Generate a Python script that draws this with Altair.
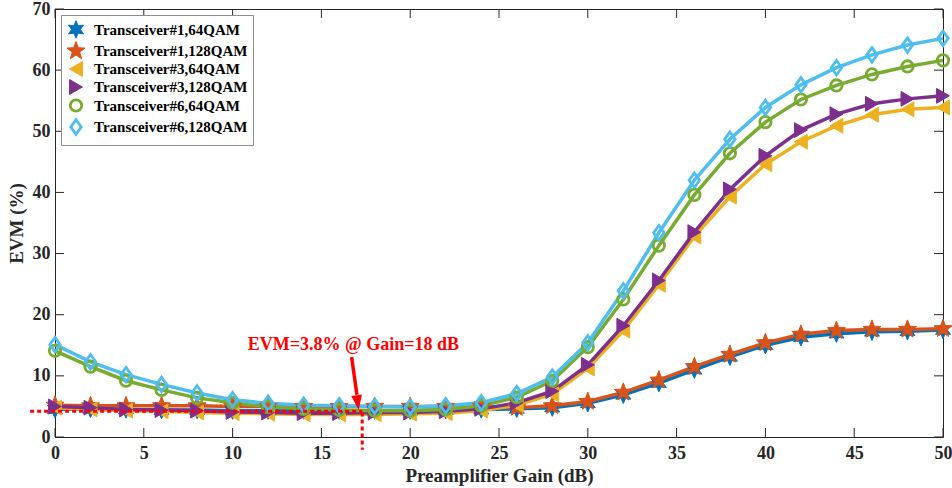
import math
import altair as alt
import pandas as pd

# ---------------- data ----------------
gain = list(range(0, 51, 2))
series_names = [
    "Transceiver#1,64QAM",
    "Transceiver#1,128QAM",
    "Transceiver#3,64QAM",
    "Transceiver#3,128QAM",
    "Transceiver#6,64QAM",
    "Transceiver#6,128QAM",
]
t1_64 = [4.5, 4.6, 4.5, 4.4, 4.4, 4.3, 4.3, 4.3, 4.3, 4.3, 4.3, 4.4, 4.5, 4.6, 4.8, 5.5, 6.9, 8.8, 11.0, 13.1, 15.0, 16.3, 16.9, 17.2, 17.3, 17.5]
t1_128 = [5.2, 5.1, 5.1, 5.1, 5.1, 5.0, 5.0, 5.0, 5.0, 5.0, 5.0, 5.0, 5.0, 4.8, 5.1, 5.8, 7.3, 9.3, 11.5, 13.5, 15.4, 16.8, 17.4, 17.6, 17.6, 17.7]
t3_64 = [4.8, 4.5, 4.3, 4.2, 4.0, 3.9, 3.8, 3.7, 3.7, 3.7, 3.8, 3.9, 4.3, 5.2, 7.0, 11.2, 17.4, 24.9, 32.8, 39.3, 44.6, 48.3, 50.9, 52.7, 53.6, 53.9]
t3_128 = [5.0, 4.8, 4.5, 4.4, 4.3, 4.1, 4.0, 3.9, 3.9, 4.0, 4.0, 4.2, 4.6, 5.6, 7.5, 11.8, 18.2, 25.6, 33.5, 40.5, 46.0, 50.2, 52.8, 54.5, 55.3, 55.8]
t6_64 = [14.1, 11.5, 9.2, 7.7, 6.4, 5.6, 4.9, 4.6, 4.4, 4.3, 4.3, 4.5, 5.1, 6.5, 9.2, 14.7, 22.5, 31.3, 39.6, 46.4, 51.5, 55.2, 57.5, 59.3, 60.6, 61.6]
t6_128 = [15.1, 12.3, 10.2, 8.6, 7.2, 6.1, 5.5, 5.2, 5.1, 5.0, 4.9, 5.1, 5.6, 7.1, 9.8, 15.4, 23.9, 33.4, 42.0, 48.7, 53.9, 57.6, 60.4, 62.5, 64.1, 65.2]
all_series = [t1_64, t1_128, t3_64, t3_128, t6_64, t6_128]

x_ticks = [0, 5, 10, 15, 20, 25, 30, 35, 40, 45, 50]
y_ticks = [0, 10, 20, 30, 40, 50, 60, 70]

# annotation values
ann_text = "EVM=3.8% @ Gain=18 dB"
ann_text_pos = [16.8, 15.1]
hline_x = [-1.4, 17.3]
hline_y = 4.2
vline_x = 17.3
vline_y = [4.0, -2.1]
arrow_start = [16.7, 13.1]
arrow_shaft_end = [17.0, 6.9]
arrow_tip = [17.1, 4.4]

# ---------------- styles ----------------
colors = ["#0072BD", "#D95319", "#EDB120", "#7E2F8E", "#77AC30", "#4DBEEE"]
fills = ["#0072BD", "#D95319", "#EDB120", "#7E2F8E", "transparent", "transparent"]


def star_path(n, r_in):
    pts = []
    for k in range(2 * n):
        ang = math.radians(-90 + 180.0 / n * k)
        r = 1.0 if k % 2 == 0 else r_in
        pts.append((r * math.cos(ang), r * math.sin(ang)))
    return "M" + "L".join(f"{x:.3f},{y:.3f}" for x, y in pts) + "Z"


hexagram = star_path(6, 0.5)
pentagram = star_path(5, 0.42)
diamond = "M0,-1L0.72,0L0,1L-0.72,0Z"
shapes = [hexagram, pentagram, "triangle-left", "triangle-right", "circle", diamond]
sizes = [300, 360, 220, 220, 130, 210]
stroke_w = [1, 1, 1, 1, 2.8, 2.8]

FONT = "Liberation Serif"
W, H = 888, 428

rows = []
for name, vals in zip(series_names, all_series):
    for g, v in zip(gain, vals):
        rows.append({"gain": g, "evm": v, "series": name, "style": name})
df = pd.DataFrame(rows)

xscale = alt.Scale(domain=[0, 50], nice=False, zero=False)
yscale = alt.Scale(domain=[0, 70], nice=False, zero=False)

xaxis = alt.Axis(values=x_ticks, ticks=False, grid=False, labelFont=FONT, labelFontWeight="bold",
                 labelFontSize=18, labelColor="#262626", labelPadding=7, domainColor="#262626",
                 title="Preamplifier Gain (dB)", titleFont=FONT, titleFontWeight="bold",
                 titleFontSize=19, titleColor="#262626", titlePadding=4, labelFlush=False)
yaxis = alt.Axis(values=y_ticks, ticks=False, grid=False, labelFont=FONT, labelFontWeight="bold",
                 labelFontSize=18, labelColor="#262626", labelPadding=5, domainColor="#262626",
                 title="EVM (%)", titleFont=FONT, titleFontWeight="bold",
                 titleFontSize=19, titleColor="#262626", titlePadding=6, labelFlush=False)

leg_scale_stroke = alt.Scale(domain=series_names, range=colors)
leg_scale_fill = alt.Scale(domain=series_names, range=fills)
leg_scale_shape = alt.Scale(domain=series_names, range=shapes)


def leg():
    return alt.Legend(title=None, symbolSize=150, rowPadding=-3)


base = alt.Chart(df)
lines = base.mark_line(strokeWidth=3.5).encode(
    x=alt.X("gain:Q", scale=xscale, axis=xaxis),
    y=alt.Y("evm:Q", scale=yscale, axis=yaxis),
    stroke=alt.Stroke("series:N", scale=leg_scale_stroke, legend=leg()),
    detail="series:N",
)
points = base.mark_point(filled=True, opacity=1).encode(
    x="gain:Q",
    y="evm:Q",
    stroke=alt.Stroke("series:N", scale=leg_scale_stroke, legend=leg()),
    fill=alt.Fill("series:N", scale=leg_scale_fill, legend=leg()),
    shape=alt.Shape("series:N", scale=leg_scale_shape, legend=leg()),
    size=alt.Size("style:N", scale=alt.Scale(type="ordinal", domain=series_names, range=sizes), legend=None),
    strokeWidth=alt.StrokeWidth("style:N", scale=alt.Scale(type="ordinal", domain=series_names, range=stroke_w), legend=None),
)

# annotations
hl = alt.Chart(pd.DataFrame({"x": [hline_x[0]], "x2": [hline_x[1]], "y": [hline_y]})).mark_rule(
    color="#FF0000", strokeWidth=3, strokeDash=[4, 3], clip=False
).encode(x="x:Q", x2="x2:Q", y="y:Q")
vl = alt.Chart(pd.DataFrame({"x": [vline_x], "y": [vline_y[0]], "y2": [vline_y[1]]})).mark_rule(
    color="#FF0000", strokeWidth=3, strokeDash=[4, 3], clip=False
).encode(x="x:Q", y="y:Q", y2="y2:Q")
shaft = alt.Chart(pd.DataFrame({"x": [arrow_start[0]], "y": [arrow_start[1]],
                                "x2": [arrow_shaft_end[0]], "y2": [arrow_shaft_end[1]]})).mark_rule(
    color="#FF0000", strokeWidth=3.5
).encode(x="x:Q", y="y:Q", x2="x2:Q", y2="y2:Q")
head = alt.Chart(pd.DataFrame({"x": [arrow_tip[0]], "y": [arrow_tip[1]]})).mark_point(
    shape="M0,0L-0.36,-1L0.36,-1Z", filled=True, color="#FF0000", size=900, angle=352, opacity=1
).encode(x="x:Q", y="y:Q")
txt = alt.Chart(pd.DataFrame({"x": [ann_text_pos[0]], "y": [ann_text_pos[1]], "t": [ann_text]})).mark_text(
    font=FONT, fontWeight="bold", fontSize=18, color="#FF0000", align="center", baseline="middle"
).encode(x="x:Q", y="y:Q", text="t:N")

# inward ticks (MATLAB-style box)
xt = pd.DataFrame({"v": x_ticks})
yt = pd.DataFrame({"v": y_ticks})
tick_col = "#262626"
xt_bot = alt.Chart(xt).mark_rule(color=tick_col, strokeWidth=1).encode(
    x="v:Q", y=alt.value(H), y2=alt.value(H - 9))
xt_top = alt.Chart(xt).mark_rule(color=tick_col, strokeWidth=1).encode(
    x="v:Q", y=alt.value(0), y2=alt.value(9))
yt_left = alt.Chart(yt).mark_rule(color=tick_col, strokeWidth=1).encode(
    y="v:Q", x=alt.value(0), x2=alt.value(9))
yt_right = alt.Chart(yt).mark_rule(color=tick_col, strokeWidth=1).encode(
    y="v:Q", x=alt.value(W - 9), x2=alt.value(W))

chart = alt.layer(
    xt_bot, xt_top, yt_left, yt_right, lines, points, hl, vl, shaft, head, txt
).properties(
    width=W, height=H,
    autosize=alt.AutoSizeParams(type="none"),
    padding={"left": 55, "top": 9, "right": 9, "bottom": 51},
).configure_view(
    stroke="#262626", strokeWidth=1
).configure_legend(
    orient="top-left", offset=6, padding=5, strokeColor="#8c8c8c", fillColor="white",
    labelFont=FONT, labelFontWeight="bold", labelFontSize=15, labelColor="black",
    symbolStrokeWidth=2, labelOffset=8, labelLimit=300,
    cornerRadius=0,
)

chart.save("out.html", embed_options={"renderer": "svg", "actions": False})
